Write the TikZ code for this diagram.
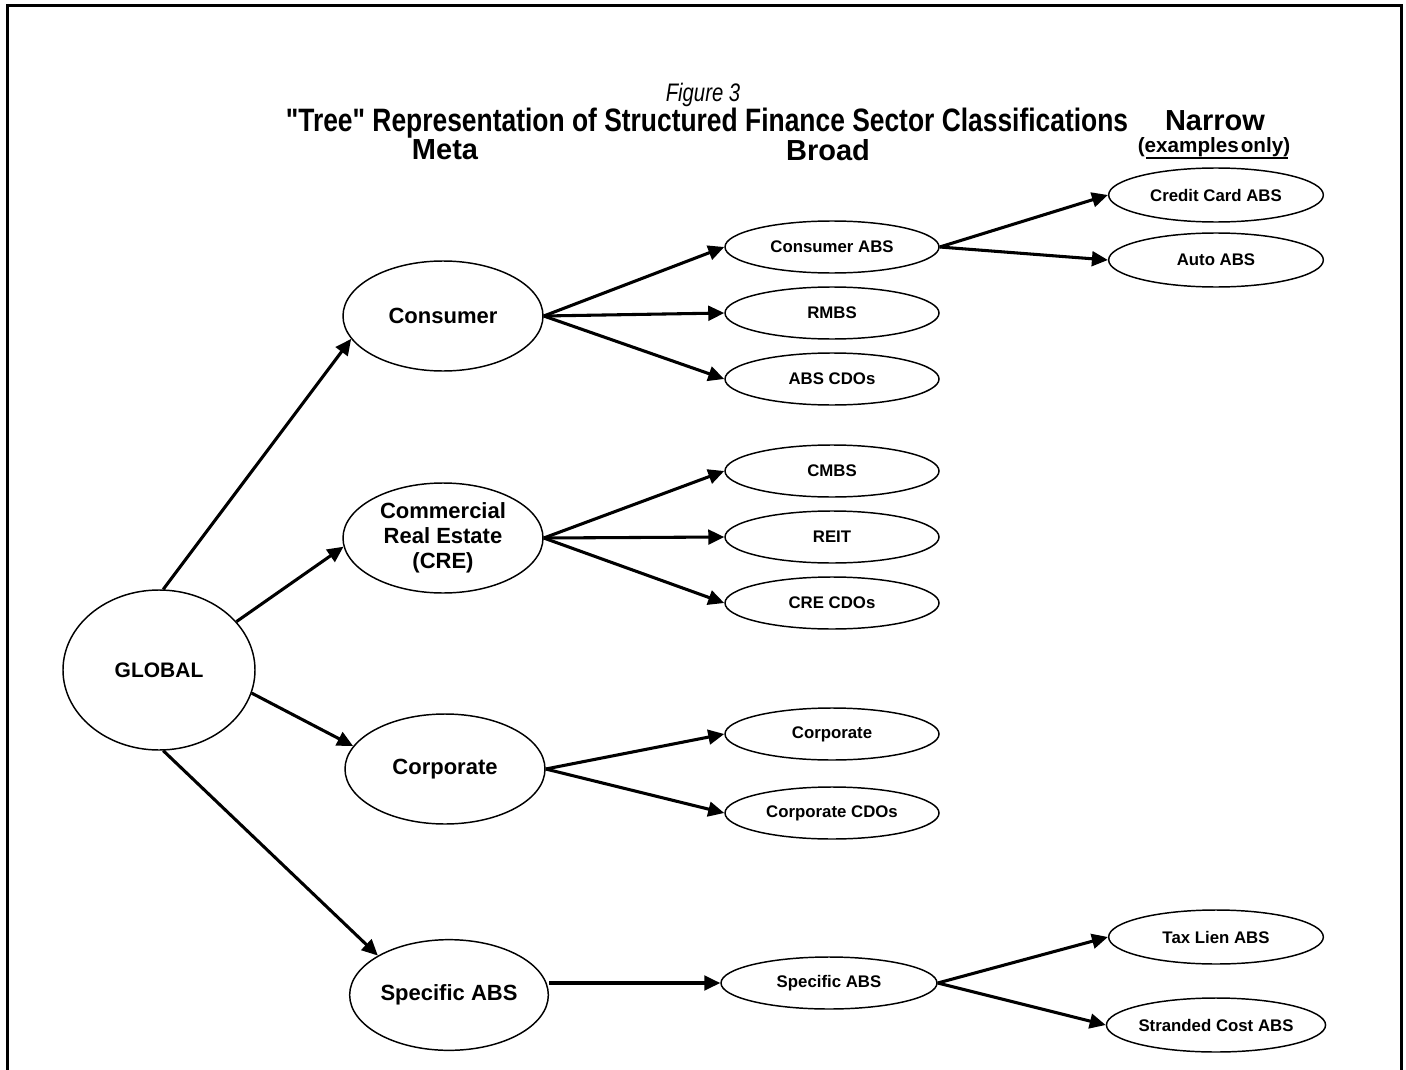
\documentclass[tikz,border=0pt]{standalone}
\usepackage{fontspec}
\setmainfont{Liberation Sans}
\newfontfamily\titlefont[FakeStretch=0.80]{Liberation Sans}
\newfontfamily\headfont[FakeStretch=0.815]{Liberation Sans}
\usetikzlibrary{shapes.geometric,arrows.meta}
\begin{document}
\begin{tikzpicture}[x=0.75pt,y=-0.75pt,
  oval/.style={draw, ellipse, line width=1.1pt, inner sep=0pt, align=center},
  metaoval/.style={oval, minimum width=150pt, minimum height=82.5pt, font=\fontsize{16.5}{18.75}\selectfont\bfseries},
  broadoval/.style={oval, minimum width=160.5pt, minimum height=39pt, font=\fontsize{12.6}{14}\selectfont\bfseries},
  narrowoval/.style={oval, minimum width=161pt, minimum height=40.5pt, font=\fontsize{12.6}{14}\selectfont\bfseries},
  heading/.style={font=\fontsize{21.75}{24}\selectfont\bfseries, inner sep=0pt},
  arr/.style={line width=2.3pt, -{Triangle[length=12pt,width=11pt]}},
]
\useasboundingbox (0,0) rectangle (1406,1070);
% frame
\draw[line width=2.25pt] (7,1070) -- (7,6) -- (1401,6) -- (1401,1070);

% titles
\node[inner sep=0pt, font=\titlefont\fontsize{19}{22}\selectfont\itshape] (fig) at (703,95) {Figure 3};
\node[inner sep=0pt, font=\headfont\fontsize{24.3}{26}\selectfont\bfseries] (title) at (707,123) {"Tree" Representation of Structured Finance Sector Classifications};

% headings
\node[heading] (hmeta) at (445,150) {Meta};
\node[heading] (hbroad) at (828,150) {Broad};
\node[heading] (hnarrow) at (1215,121) {Narrow};
\node[inner sep=0pt, font=\fontsize{15.5}{17}\selectfont\bfseries] (hex) at (1214,147) {(examples\hspace{1.5pt}only)};
\coordinate (ul1) at (1146,158);
\coordinate (ul2) at (1288,158);
\draw[line width=2.2pt] (ul1) -- (ul2);

% meta level
\node[oval, minimum width=144pt, minimum height=120pt, font=\fontsize{15.75}{18.75}\selectfont\bfseries] (global) at (159,670) {GLOBAL};
\node[metaoval] (consumer) at (443,316) {Consumer};
\node[metaoval] (cre) at (443,538) {Commercial\\Real Estate\\(CRE)};
\node[metaoval] (corporate) at (445,769) {Corporate};
\node[metaoval, minimum width=149pt, minimum height=83pt] (smeta) at (449,995) {Specific ABS};

% broad level
\node[broadoval] (cabs) at (832,247) {Consumer ABS};
\node[broadoval] (rmbs) at (832,313) {RMBS};
\node[broadoval] (abscdo) at (832,379) {ABS CDOs};
\node[broadoval] (cmbs) at (832,471) {CMBS};
\node[broadoval] (reit) at (832,537) {REIT};
\node[broadoval] (crecdo) at (832,603) {CRE CDOs};
\node[broadoval] (corpb) at (832,734) {Corporate};
\node[broadoval] (corpcdo) at (832,813) {Corporate CDOs};
\node[broadoval, minimum width=162pt] (sbroad) at (829,983) {Specific ABS};

% narrow level
\node[narrowoval] (ccabs) at (1216,195) {Credit Card ABS};
\node[narrowoval] (auto) at (1216,260) {Auto ABS};
\node[narrowoval] (taxlien) at (1216,937) {Tax Lien ABS};
\node[narrowoval] (stranded) at (1216,1025) {Stranded Cost ABS};

% connectors
\draw[arr] (global.87) -- (consumer.194);
\draw[arr] (global.32) -- (cre.185);
\draw[arr] (global.-14) -- (corporate.166);
\draw[arr] (global.-87) -- (smeta.151);

\draw[arr] (consumer.east) -- (cabs.west);
\draw[arr] (consumer.east) -- (rmbs.west);
\draw[arr] (consumer.east) -- (abscdo.west);
\draw[arr] (cre.east) -- (cmbs.west);
\draw[arr] (cre.east) -- (reit.west);
\draw[arr] (cre.east) -- (crecdo.west);
\draw[arr] (corporate.east) -- (corpb.west);
\draw[arr] (corporate.east) -- (corpcdo.west);
\draw[arr] (smeta.east |- sbroad.west) -- (sbroad.west);

\draw[arr] (cabs.east) -- (ccabs.west);
\draw[arr] (cabs.east) -- (auto.west);
\draw[arr] (sbroad.east) -- (taxlien.west);
\draw[arr] (sbroad.east) -- (stranded.west);
\end{tikzpicture}
\end{document}
